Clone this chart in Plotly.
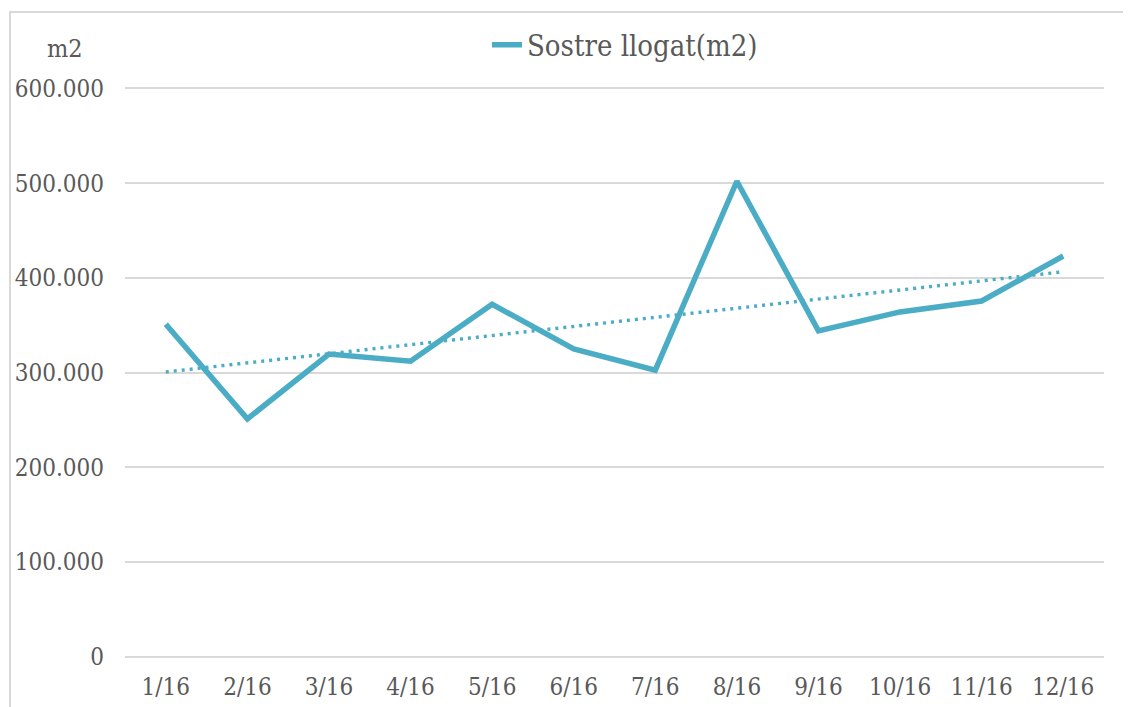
import numpy as np
import plotly.graph_objects as go

months = ["1/16", "2/16", "3/16", "4/16", "5/16", "6/16",
          "7/16", "8/16", "9/16", "10/16", "11/16", "12/16"]
sostre = [351000, 251000, 319500, 312000, 372000, 325000,
          302500, 502000, 344000, 364000, 375500, 423000]
series_name = "Sostre llogat(m2)"
y_ticks = [0, 100000, 200000, 300000, 400000, 500000, 600000]
y_tick_labels = ["0", "100.000", "200.000", "300.000", "400.000", "500.000", "600.000"]

FONT = "DejaVu Serif Condensed, DejaVu Serif, serif"
COLOR = "#4BACC6"
TXT = "#595959"

idx = np.arange(len(months))
slope, intercept = np.polyfit(idx, sostre, 1)
trend = slope * idx + intercept

# page has an 8px body margin; work in page pixels and convert
OFF = 8
W, H = 1131 - OFF, 707 - OFF
PAD = 1500  # small y padding so the 0 and 600.000 gridlines are drawn
ppx = 569 / 600000.0
L = 125 - OFF
R = W - (1104 - OFF)
T = int(round(88 - OFF - PAD * ppx))
B = int(round(H - (657 - OFF) - PAD * ppx))
pw, ph = W - L - R, H - T - B

def px_x(p):
    return (p - OFF - L) / pw

def px_y(p):
    return 1 - (p - OFF - T) / ph

fig = go.Figure()
fig.add_trace(go.Scatter(x=months, y=trend, mode="lines", showlegend=False,
                         line=dict(color=COLOR, width=3.4, dash="3px,5px"),
                         hoverinfo="skip"))
fig.add_trace(go.Scatter(x=months, y=sostre, mode="lines", name=series_name,
                         line=dict(color=COLOR, width=5.5)))

fig.add_shape(type="rect", xref="paper", yref="paper",
              x0=px_x(10), x1=px_x(1145), y0=px_y(720), y1=px_y(12),
              line=dict(color="#d9d9d9", width=2), fillcolor="rgba(0,0,0,0)", layer="below")

fig.add_annotation(text="m2", xref="paper", yref="paper", x=px_x(65), y=px_y(48),
                   showarrow=False, font=dict(family=FONT, size=25, color=TXT),
                   xanchor="center", yanchor="middle")

fig.update_layout(
    width=W, height=H,
    margin=dict(l=L, r=R, t=T, b=B, pad=0, autoexpand=False),
    paper_bgcolor="white", plot_bgcolor="white",
    font=dict(family=FONT, size=24, color=TXT),
    showlegend=True,
    legend=dict(orientation="h", x=px_x(487), y=px_y(45), xanchor="left", yanchor="middle",
                font=dict(family=FONT, size=29, color=TXT), bgcolor="rgba(0,0,0,0)"),
    xaxis=dict(type="category", showgrid=False, zeroline=False, showline=False,
               ticks="", tickfont=dict(family=FONT, size=24, color=TXT), automargin=False,
               ticklabelstandoff=12, range=[-0.5, 11.5]),
    yaxis=dict(range=[-PAD, 600000 + PAD], tickvals=y_ticks, ticktext=y_tick_labels,
               showgrid=True, gridcolor="#d9d9d9", gridwidth=1.5, zeroline=False,
               showline=False, ticks="", ticklabelstandoff=20, automargin=False,
               tickfont=dict(family=FONT, size=24, color=TXT)),
)

fig.write_html("out.html")
